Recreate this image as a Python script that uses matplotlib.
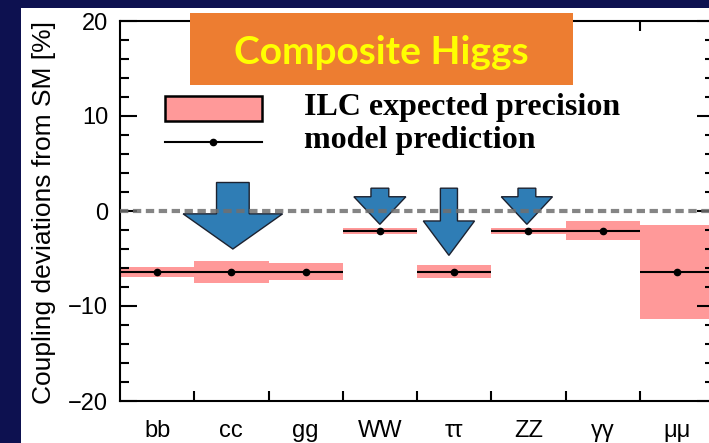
import numpy as np
import matplotlib.pyplot as plt
from matplotlib.patches import Rectangle, Polygon

# couplings and composite Higgs expectation (deviation from SM, in %)
channels = ['bb', 'cc', 'gg', 'WW', 'ττ', 'ZZ', 'γγ', 'μμ']
prediction = [-6.4, -6.4, -6.4, -2.1, -6.4, -2.1, -2.1, -6.4]
ilc_error = [0.55, 1.15, 0.9, 0.35, 0.7, 0.3, 1.0, 4.95]

# big arrows: centre, top of shaft, start of head, tip, shaft width, head width
arrow_x = [1.52, 3.50, 4.43, 5.48]
arrow_top = [3.0, 2.4, 2.4, 2.4]
arrow_neck = [-0.3, 1.5, -1.05, 1.5]
arrow_tip = [-4.0, -1.4, -4.67, -1.4]
arrow_shaft = [0.44, 0.24, 0.23, 0.24]
arrow_head = [1.34, 0.70, 0.69, 0.69]

pink = '#ff9999'
blue = '#2f7db5'

W, H = 709, 443
fig = plt.figure(figsize=(W / 100, H / 100), dpi=100)
fig.patch.set_facecolor('#0d1150')

# white slide panel behind the plot
fig.patches.append(Rectangle((21 / W, 0), 1, (H - 8) / H, transform=fig.transFigure,
                             facecolor='white', edgecolor='none', zorder=-1))

ax = fig.add_axes([120 / W, (H - 401) / H, 594 / W, 380 / H])
ax.set_facecolor('white')

n = len(channels)
x = np.arange(n)

# ILC precision bands
ax.bar(x + 0.5, 2 * np.array(ilc_error), bottom=np.array(prediction) - np.array(ilc_error),
       width=1.0, color=pink, edgecolor='none', zorder=1)

# model prediction
ax.hlines(prediction, x, x + 1, colors='black', lw=1.5, zorder=3)
ax.plot(x + 0.5, prediction, 'o', color='black', ms=4.5, zorder=4)

# arrows
for cx, top, neck, tip, sw, hw in zip(arrow_x, arrow_top, arrow_neck, arrow_tip,
                                      arrow_shaft, arrow_head):
    verts = [(cx - sw / 2, top), (cx + sw / 2, top), (cx + sw / 2, neck),
             (cx + hw / 2, neck), (cx, tip), (cx - hw / 2, neck), (cx - sw / 2, neck)]
    ax.add_patch(Polygon(verts, closed=True, facecolor=blue, edgecolor='#1c2230',
                         lw=1.0, zorder=5))

# SM line
ax.axhline(0, color='#707070', lw=3, dashes=(2.0, 1.1), alpha=0.85, zorder=6)

ax.set_xlim(0, n)
ax.set_ylim(-20, 20)

ax.set_xticks(np.arange(1, n))
ax.set_xticklabels([])
ax.set_xticks(x + 0.5, minor=True)
ax.set_xticklabels(channels, minor=True, fontsize=17, family='Liberation Sans')
ax.tick_params(axis='x', which='major', direction='in', length=7, width=1.5,
               top=True, bottom=True)
ax.tick_params(axis='x', which='minor', length=0, pad=13.5)

ax.set_yticks([-20, -10, 0, 10, 20])
ax.set_yticks(np.arange(-18, 20, 2), minor=True)
ax.tick_params(axis='y', which='major', direction='in', length=12, width=1.5,
               left=True, right=True, labelsize=17, pad=8.5)
ax.tick_params(axis='y', which='minor', direction='in', length=6.5, width=1.5,
               left=True, right=True)
for lab in ax.get_yticklabels():
    lab.set_family('Liberation Sans')

for s in ax.spines.values():
    s.set_linewidth(1.5)

ax.set_ylabel('Coupling deviations from SM [%]', fontsize=19, family='Liberation Sans',
              va='center')
ax.yaxis.set_label_coords(-0.128, 0.496)

# legend
ax.add_patch(Rectangle((0.0758, 0.737), 0.163, 0.066, transform=ax.transAxes,
                       facecolor=pink, edgecolor='black', lw=1.8, zorder=7))
ax.plot([0.0758, 0.239], [0.681, 0.681], color='black', lw=1.5,
        transform=ax.transAxes, zorder=7)
ax.plot([0.157], [0.681], 'o', color='black', ms=4.5, transform=ax.transAxes, zorder=7)
ax.text(0.31, 0.753, 'ILC expected precision', transform=ax.transAxes, fontsize=23,
        family='Liberation Serif', weight='bold', va='baseline', zorder=7)
ax.text(0.31, 0.666, 'model prediction', transform=ax.transAxes, fontsize=23,
        family='Liberation Serif', weight='bold', va='baseline', zorder=7)

# title box
fig.patches.append(Rectangle((190 / W, (H - 85) / H), 383 / W, 72 / H,
                             transform=fig.transFigure, facecolor='#ed7d31',
                             edgecolor='none', zorder=5))
fig.text(381.5 / W, (H - 64) / H, 'Composite Higgs', color='#ffff00', fontsize=28,
         family='Lato', weight='bold', ha='center', va='baseline', zorder=6)

fig.savefig('out.png', dpi=100, facecolor=fig.get_facecolor())
